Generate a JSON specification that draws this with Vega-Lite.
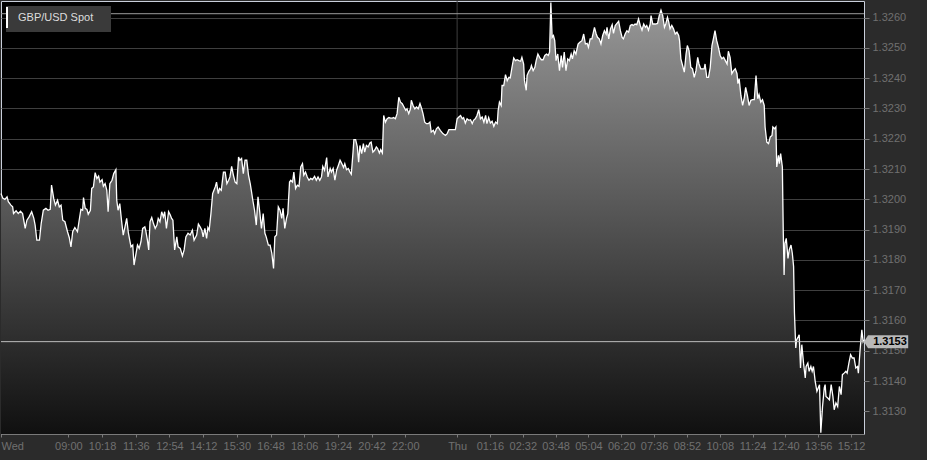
{
  "$schema": "https://vega.github.io/schema/vega-lite/v6.json",
  "width": 863,
  "height": 433,
  "autosize": {"type": "none"},
  "padding": {"left": 1, "top": 1, "right": 63, "bottom": 26},
  "background": "#2b2b2b",
  "config": {
    "font": "Liberation Sans",
    "view": {"fill": "#000000", "stroke": "#c9cfdb", "strokeWidth": 1},
    "axis": {"labelOverlap": false, "tickCount": 100}
  },
  "data": {"values": [
{"t":384,"p":1.32019},{"t":388,"p":1.32004},{"t":393,"p":1.32000},{"t":398,"p":1.32008},{"t":401,"p":1.31992},{"t":407,"p":1.31981},{"t":411,"p":1.31975},{"t":413,"p":1.31953},{"t":419,"p":1.31962},{"t":424,"p":1.31953},{"t":429,"p":1.31961},{"t":434,"p":1.31953},{"t":440,"p":1.31904},{"t":444,"p":1.31931},{"t":449,"p":1.31942},{"t":455,"p":1.31959},{"t":460,"p":1.31937},{"t":463,"p":1.31915},{"t":467,"p":1.31865},{"t":473,"p":1.31865},{"t":477,"p":1.31920},{"t":482,"p":1.31964},{"t":488,"p":1.31970},{"t":493,"p":1.31964},{"t":498,"p":1.31967},{"t":501,"p":1.32047},{"t":506,"p":1.32003},{"t":510,"p":1.31981},{"t":515,"p":1.31997},{"t":519,"p":1.31975},{"t":523,"p":1.31981},{"t":527,"p":1.31931},{"t":532,"p":1.31926},{"t":538,"p":1.31893},{"t":542,"p":1.31874},{"t":546,"p":1.31843},{"t":550,"p":1.31893},{"t":555,"p":1.31907},{"t":561,"p":1.31893},{"t":565,"p":1.31931},{"t":569,"p":1.31967},{"t":573,"p":1.31964},{"t":575,"p":1.32006},{"t":579,"p":1.31970},{"t":583,"p":1.31967},{"t":586,"p":1.31951},{"t":591,"p":1.31964},{"t":594,"p":1.32036},{"t":598,"p":1.32041},{"t":602,"p":1.32088},{"t":606,"p":1.32069},{"t":610,"p":1.32077},{"t":613,"p":1.32057},{"t":618,"p":1.32065},{"t":621,"p":1.32043},{"t":625,"p":1.32052},{"t":629,"p":1.32030},{"t":632,"p":1.31959},{"t":636,"p":1.32052},{"t":641,"p":1.32063},{"t":645,"p":1.32085},{"t":650,"p":1.32098},{"t":652,"p":1.31997},{"t":655,"p":1.31964},{"t":659,"p":1.31986},{"t":663,"p":1.31931},{"t":667,"p":1.31882},{"t":671,"p":1.31909},{"t":675,"p":1.31937},{"t":679,"p":1.31888},{"t":685,"p":1.31843},{"t":689,"p":1.31849},{"t":692,"p":1.31783},{"t":696,"p":1.31816},{"t":700,"p":1.31849},{"t":704,"p":1.31838},{"t":708,"p":1.31860},{"t":712,"p":1.31904},{"t":717,"p":1.31909},{"t":719,"p":1.31898},{"t":723,"p":1.31865},{"t":726,"p":1.31833},{"t":729,"p":1.31926},{"t":733,"p":1.31940},{"t":737,"p":1.31920},{"t":741,"p":1.31904},{"t":745,"p":1.31915},{"t":748,"p":1.31937},{"t":752,"p":1.31926},{"t":756,"p":1.31959},{"t":760,"p":1.31942},{"t":763,"p":1.31959},{"t":767,"p":1.31904},{"t":772,"p":1.31959},{"t":776,"p":1.31948},{"t":779,"p":1.31937},{"t":782,"p":1.31931},{"t":786,"p":1.31833},{"t":791,"p":1.31876},{"t":794,"p":1.31843},{"t":799,"p":1.31838},{"t":804,"p":1.31813},{"t":808,"p":1.31833},{"t":812,"p":1.31876},{"t":817,"p":1.31888},{"t":822,"p":1.31882},{"t":827,"p":1.31898},{"t":831,"p":1.31865},{"t":837,"p":1.31882},{"t":841,"p":1.31918},{"t":845,"p":1.31909},{"t":849,"p":1.31898},{"t":852,"p":1.31876},{"t":856,"p":1.31904},{"t":860,"p":1.31871},{"t":863,"p":1.31907},{"t":866,"p":1.31898},{"t":870,"p":1.31953},{"t":874,"p":1.32019},{"t":877,"p":1.32030},{"t":880,"p":1.32041},{"t":883,"p":1.32057},{"t":887,"p":1.32019},{"t":890,"p":1.32036},{"t":894,"p":1.32030},{"t":899,"p":1.32090},{"t":903,"p":1.32090},{"t":907,"p":1.32052},{"t":911,"p":1.32063},{"t":914,"p":1.32074},{"t":918,"p":1.32109},{"t":922,"p":1.32080},{"t":926,"p":1.32057},{"t":930,"p":1.32052},{"t":934,"p":1.32140},{"t":937,"p":1.32129},{"t":941,"p":1.32135},{"t":945,"p":1.32085},{"t":949,"p":1.32129},{"t":953,"p":1.32129},{"t":957,"p":1.32080},{"t":961,"p":1.32052},{"t":964,"p":1.32025},{"t":967,"p":1.31997},{"t":971,"p":1.31964},{"t":975,"p":1.31915},{"t":979,"p":1.32008},{"t":983,"p":1.31959},{"t":987,"p":1.31904},{"t":991,"p":1.31953},{"t":995,"p":1.31888},{"t":998,"p":1.31876},{"t":1003,"p":1.31849},{"t":1007,"p":1.31849},{"t":1011,"p":1.31822},{"t":1015,"p":1.31772},{"t":1018,"p":1.31876},{"t":1022,"p":1.31882},{"t":1026,"p":1.31975},{"t":1030,"p":1.31964},{"t":1034,"p":1.31937},{"t":1037,"p":1.31970},{"t":1041,"p":1.31904},{"t":1045,"p":1.31937},{"t":1048,"p":1.31953},{"t":1052,"p":1.32057},{"t":1055,"p":1.32063},{"t":1059,"p":1.32057},{"t":1062,"p":1.32090},{"t":1066,"p":1.32036},{"t":1070,"p":1.32047},{"t":1074,"p":1.32043},{"t":1078,"p":1.32107},{"t":1082,"p":1.32118},{"t":1085,"p":1.32080},{"t":1089,"p":1.32090},{"t":1093,"p":1.32074},{"t":1097,"p":1.32063},{"t":1101,"p":1.32069},{"t":1105,"p":1.32065},{"t":1110,"p":1.32076},{"t":1114,"p":1.32063},{"t":1118,"p":1.32074},{"t":1122,"p":1.32063},{"t":1126,"p":1.32074},{"t":1129,"p":1.32109},{"t":1133,"p":1.32096},{"t":1138,"p":1.32138},{"t":1141,"p":1.32074},{"t":1146,"p":1.32102},{"t":1149,"p":1.32090},{"t":1153,"p":1.32102},{"t":1157,"p":1.32063},{"t":1161,"p":1.32096},{"t":1165,"p":1.32112},{"t":1169,"p":1.32129},{"t":1173,"p":1.32118},{"t":1177,"p":1.32105},{"t":1180,"p":1.32118},{"t":1184,"p":1.32098},{"t":1188,"p":1.32102},{"t":1192,"p":1.32090},{"t":1195,"p":1.32083},{"t":1199,"p":1.32156},{"t":1201,"p":1.32197},{"t":1205,"p":1.32197},{"t":1209,"p":1.32173},{"t":1212,"p":1.32123},{"t":1215,"p":1.32178},{"t":1219,"p":1.32151},{"t":1223,"p":1.32184},{"t":1226,"p":1.32156},{"t":1230,"p":1.32178},{"t":1234,"p":1.32173},{"t":1238,"p":1.32186},{"t":1241,"p":1.32189},{"t":1245,"p":1.32156},{"t":1249,"p":1.32162},{"t":1253,"p":1.32173},{"t":1256,"p":1.32168},{"t":1260,"p":1.32153},{"t":1263,"p":1.32164},{"t":1267,"p":1.32153},{"t":1270,"p":1.32277},{"t":1274,"p":1.32255},{"t":1278,"p":1.32266},{"t":1282,"p":1.32270},{"t":1286,"p":1.32268},{"t":1290,"p":1.32268},{"t":1293,"p":1.32270},{"t":1297,"p":1.32266},{"t":1301,"p":1.32283},{"t":1305,"p":1.32337},{"t":1309,"p":1.32321},{"t":1313,"p":1.32316},{"t":1317,"p":1.32305},{"t":1321,"p":1.32294},{"t":1324,"p":1.32299},{"t":1328,"p":1.32283},{"t":1332,"p":1.32299},{"t":1334,"p":1.32327},{"t":1338,"p":1.32310},{"t":1342,"p":1.32299},{"t":1346,"p":1.32305},{"t":1350,"p":1.32299},{"t":1354,"p":1.32316},{"t":1358,"p":1.32299},{"t":1361,"p":1.32283},{"t":1365,"p":1.32255},{"t":1369,"p":1.32250},{"t":1373,"p":1.32250},{"t":1377,"p":1.32255},{"t":1380,"p":1.32222},{"t":1385,"p":1.32228},{"t":1388,"p":1.32217},{"t":1392,"p":1.32233},{"t":1396,"p":1.32239},{"t":1401,"p":1.32228},{"t":1407,"p":1.32217},{"t":1413,"p":1.32211},{"t":1417,"p":1.32217},{"t":1421,"p":1.32230},{"t":1429,"p":1.32230},{"t":1436,"p":1.32230},{"t":1440,"p":1.32266},{"t":1444,"p":1.32272},{"t":1448,"p":1.32277},{"t":1452,"p":1.32266},{"t":1455,"p":1.32270},{"t":1459,"p":1.32252},{"t":1463,"p":1.32266},{"t":1467,"p":1.32261},{"t":1471,"p":1.32263},{"t":1475,"p":1.32250},{"t":1478,"p":1.32261},{"t":1482,"p":1.32266},{"t":1486,"p":1.32277},{"t":1490,"p":1.32296},{"t":1494,"p":1.32266},{"t":1498,"p":1.32272},{"t":1502,"p":1.32255},{"t":1506,"p":1.32277},{"t":1509,"p":1.32250},{"t":1513,"p":1.32270},{"t":1517,"p":1.32252},{"t":1521,"p":1.32258},{"t":1525,"p":1.32241},{"t":1529,"p":1.32255},{"t":1533,"p":1.32250},{"t":1535,"p":1.32294},{"t":1538,"p":1.32321},{"t":1542,"p":1.32310},{"t":1544,"p":1.32376},{"t":1548,"p":1.32376},{"t":1552,"p":1.32412},{"t":1556,"p":1.32392},{"t":1560,"p":1.32403},{"t":1563,"p":1.32401},{"t":1567,"p":1.32436},{"t":1571,"p":1.32467},{"t":1575,"p":1.32458},{"t":1579,"p":1.32461},{"t":1583,"p":1.32458},{"t":1587,"p":1.32456},{"t":1590,"p":1.32469},{"t":1594,"p":1.32447},{"t":1596,"p":1.32392},{"t":1600,"p":1.32360},{"t":1602,"p":1.32409},{"t":1606,"p":1.32423},{"t":1610,"p":1.32431},{"t":1612,"p":1.32442},{"t":1616,"p":1.32425},{"t":1620,"p":1.32436},{"t":1623,"p":1.32458},{"t":1627,"p":1.32480},{"t":1631,"p":1.32469},{"t":1635,"p":1.32461},{"t":1639,"p":1.32461},{"t":1643,"p":1.32475},{"t":1647,"p":1.32480},{"t":1651,"p":1.32475},{"t":1654,"p":1.32486},{"t":1657,"p":1.32650},{"t":1660,"p":1.32535},{"t":1663,"p":1.32541},{"t":1666,"p":1.32524},{"t":1669,"p":1.32458},{"t":1673,"p":1.32480},{"t":1677,"p":1.32425},{"t":1681,"p":1.32475},{"t":1684,"p":1.32436},{"t":1688,"p":1.32486},{"t":1692,"p":1.32425},{"t":1696,"p":1.32464},{"t":1700,"p":1.32458},{"t":1704,"p":1.32480},{"t":1707,"p":1.32464},{"t":1711,"p":1.32491},{"t":1715,"p":1.32480},{"t":1720,"p":1.32513},{"t":1724,"p":1.32519},{"t":1729,"p":1.32524},{"t":1733,"p":1.32546},{"t":1737,"p":1.32513},{"t":1741,"p":1.32515},{"t":1744,"p":1.32502},{"t":1748,"p":1.32530},{"t":1752,"p":1.32530},{"t":1758,"p":1.32568},{"t":1762,"p":1.32546},{"t":1765,"p":1.32535},{"t":1769,"p":1.32530},{"t":1773,"p":1.32513},{"t":1777,"p":1.32541},{"t":1781,"p":1.32557},{"t":1785,"p":1.32546},{"t":1787,"p":1.32568},{"t":1791,"p":1.32530},{"t":1795,"p":1.32563},{"t":1799,"p":1.32577},{"t":1802,"p":1.32548},{"t":1806,"p":1.32574},{"t":1810,"p":1.32581},{"t":1814,"p":1.32588},{"t":1818,"p":1.32557},{"t":1822,"p":1.32535},{"t":1825,"p":1.32530},{"t":1829,"p":1.32546},{"t":1833,"p":1.32557},{"t":1837,"p":1.32552},{"t":1841,"p":1.32574},{"t":1845,"p":1.32577},{"t":1848,"p":1.32574},{"t":1852,"p":1.32579},{"t":1856,"p":1.32577},{"t":1860,"p":1.32596},{"t":1864,"p":1.32574},{"t":1868,"p":1.32559},{"t":1872,"p":1.32579},{"t":1876,"p":1.32568},{"t":1879,"p":1.32574},{"t":1883,"p":1.32559},{"t":1887,"p":1.32579},{"t":1889,"p":1.32607},{"t":1893,"p":1.32579},{"t":1899,"p":1.32579},{"t":1904,"p":1.32581},{"t":1908,"p":1.32607},{"t":1912,"p":1.32625},{"t":1916,"p":1.32607},{"t":1920,"p":1.32568},{"t":1923,"p":1.32579},{"t":1927,"p":1.32601},{"t":1930,"p":1.32585},{"t":1933,"p":1.32563},{"t":1937,"p":1.32574},{"t":1941,"p":1.32563},{"t":1945,"p":1.32546},{"t":1949,"p":1.32552},{"t":1953,"p":1.32541},{"t":1955,"p":1.32524},{"t":1958,"p":1.32464},{"t":1962,"p":1.32442},{"t":1966,"p":1.32420},{"t":1970,"p":1.32480},{"t":1973,"p":1.32508},{"t":1977,"p":1.32491},{"t":1981,"p":1.32436},{"t":1985,"p":1.32431},{"t":1989,"p":1.32403},{"t":1993,"p":1.32425},{"t":1997,"p":1.32469},{"t":2000,"p":1.32447},{"t":2004,"p":1.32431},{"t":2008,"p":1.32431},{"t":2012,"p":1.32431},{"t":2014,"p":1.32447},{"t":2018,"p":1.32403},{"t":2022,"p":1.32403},{"t":2026,"p":1.32436},{"t":2030,"p":1.32508},{"t":2034,"p":1.32535},{"t":2037,"p":1.32557},{"t":2041,"p":1.32524},{"t":2045,"p":1.32502},{"t":2049,"p":1.32475},{"t":2053,"p":1.32464},{"t":2057,"p":1.32469},{"t":2061,"p":1.32458},{"t":2065,"p":1.32447},{"t":2068,"p":1.32489},{"t":2072,"p":1.32469},{"t":2076,"p":1.32415},{"t":2080,"p":1.32425},{"t":2084,"p":1.32431},{"t":2088,"p":1.32415},{"t":2090,"p":1.32382},{"t":2093,"p":1.32398},{"t":2097,"p":1.32343},{"t":2101,"p":1.32310},{"t":2105,"p":1.32337},{"t":2108,"p":1.32370},{"t":2112,"p":1.32343},{"t":2116,"p":1.32310},{"t":2120,"p":1.32327},{"t":2124,"p":1.32329},{"t":2128,"p":1.32329},{"t":2132,"p":1.32409},{"t":2136,"p":1.32332},{"t":2139,"p":1.32346},{"t":2143,"p":1.32321},{"t":2147,"p":1.32329},{"t":2151,"p":1.32310},{"t":2153,"p":1.32239},{"t":2157,"p":1.32189},{"t":2161,"p":1.32184},{"t":2165,"p":1.32206},{"t":2169,"p":1.32211},{"t":2171,"p":1.32239},{"t":2175,"p":1.32233},{"t":2178,"p":1.32239},{"t":2180,"p":1.32107},{"t":2184,"p":1.32145},{"t":2186,"p":1.32118},{"t":2189,"p":1.32151},{"t":2193,"p":1.32107},{"t":2195,"p":1.31898},{"t":2197,"p":1.31750},{"t":2199,"p":1.31855},{"t":2202,"p":1.31871},{"t":2206,"p":1.31805},{"t":2209,"p":1.31833},{"t":2213,"p":1.31849},{"t":2216,"p":1.31822},{"t":2219,"p":1.31778},{"t":2221,"p":1.31624},{"t":2224,"p":1.31509},{"t":2226,"p":1.31536},{"t":2230,"p":1.31547},{"t":2232,"p":1.31553},{"t":2235,"p":1.31443},{"t":2238,"p":1.31520},{"t":2242,"p":1.31459},{"t":2246,"p":1.31410},{"t":2248,"p":1.31448},{"t":2252,"p":1.31459},{"t":2255,"p":1.31432},{"t":2259,"p":1.31448},{"t":2262,"p":1.31432},{"t":2265,"p":1.31448},{"t":2269,"p":1.31399},{"t":2273,"p":1.31366},{"t":2276,"p":1.31377},{"t":2279,"p":1.31388},{"t":2282,"p":1.31229},{"t":2286,"p":1.31316},{"t":2290,"p":1.31377},{"t":2292,"p":1.31388},{"t":2294,"p":1.31349},{"t":2298,"p":1.31344},{"t":2302,"p":1.31338},{"t":2306,"p":1.31388},{"t":2310,"p":1.31349},{"t":2313,"p":1.31305},{"t":2317,"p":1.31328},{"t":2321,"p":1.31316},{"t":2325,"p":1.31382},{"t":2329,"p":1.31355},{"t":2332,"p":1.31421},{"t":2336,"p":1.31426},{"t":2340,"p":1.31432},{"t":2343,"p":1.31426},{"t":2347,"p":1.31459},{"t":2351,"p":1.31487},{"t":2355,"p":1.31476},{"t":2359,"p":1.31476},{"t":2363,"p":1.31443},{"t":2367,"p":1.31448},{"t":2369,"p":1.31426},{"t":2373,"p":1.31503},{"t":2377,"p":1.31569},{"t":2380,"p":1.31530},{"t":2382,"p":1.31536}
  ]},
  "layer": [
    {
      "data": {"values": [{}]},
      "mark": {"type": "rule", "color": "#3f3f3f", "strokeWidth": 1},
      "encoding": {"x": {"datum": 1440, "type": "quantitative"}}
    },
    {
      "mark": {
        "type": "area",
        "color": {
          "gradient": "linear", "x1": 0, "y1": 0, "x2": 0, "y2": 1,
          "stops": [{"offset": 0, "color": "#989898"}, {"offset": 1, "color": "#101010"}]
        }
      },
      "encoding": {
        "x": {
          "field": "t", "type": "quantitative",
          "scale": {"domain": [384, 2382], "nice": false, "zero": false},
          "axis": {
            "orient": "bottom", "title": null, "grid": false, "tickCount": 100,
            "values": [384, 540, 618, 696, 774, 852, 930, 1008, 1086, 1164, 1242, 1320, 1440, 1516, 1592, 1668, 1744, 1820, 1896, 1972, 2048, 2124, 2200, 2276, 2352],
            "labelExpr": "datum.value == 384 ? 'Wed' : datum.value == 1440 ? 'Thu' : (floor((datum.value % 1440) / 60) < 10 ? '0' : '') + floor((datum.value % 1440) / 60) + ':' + (datum.value % 60 < 10 ? '0' : '') + (datum.value % 60)",
            "labelFlush": true, "labelOverlap": false,
            "domainColor": "#7a7a7a", "tickColor": "#7a7a7a", "tickSize": 3,
            "labelColor": "#707070", "labelFontSize": 11, "labelFont": "Liberation Sans", "labelPadding": 3
          }
        },
        "y": {
          "field": "p", "type": "quantitative",
          "scale": {"domain": [1.31225, 1.32655], "nice": false, "zero": false},
          "axis": {
            "orient": "right", "title": null, "grid": true, "gridColor": "#3f3f3f", "tickCount": 100,
            "values": [1.313, 1.314, 1.315, 1.316, 1.317, 1.318, 1.319, 1.320, 1.321, 1.322, 1.323, 1.324, 1.325, 1.326],
            "format": ".4f", "domain": false, "labelOverlap": false, "zindex": 0,
            "tickColor": "#7a7a7a", "tickSize": 5,
            "labelColor": "#707070", "labelFontSize": 11, "labelFont": "Liberation Sans", "labelPadding": 3
          }
        },
        "y2": {"datum": 1.31225}
      }
    },
    {
      "mark": {"type": "line", "strokeWidth": 1.3},
      "encoding": {
        "x": {"field": "t", "type": "quantitative"},
        "y": {"field": "p", "type": "quantitative"},
        "stroke": {
          "datum": "GBP/USD Spot", "type": "nominal",
          "scale": {"range": ["#ffffff"]},
          "legend": {
            "title": null, "orient": "top-left", "offset": 5, "padding": 0,
            "fillColor": "#3a3a3a",
            "symbolType": "M-1,-1L-1,1M8.5,0", "symbolSize": 441, "symbolStrokeWidth": 2,
            "labelOffset": -11, "labelColor": "#dddddd", "labelFontSize": 11, "labelFont": "Liberation Sans",
            "encode": {"symbols": {"update": {"stroke": {"value": "#9a9a9a"}}}}
          }
        }
      }
    },
    {
      "data": {"values": [{}]},
      "mark": {"type": "rule", "color": "#9c9c9c", "strokeWidth": 1},
      "encoding": {"y": {"datum": 1.32613, "type": "quantitative"}}
    },
    {
      "data": {"values": [{}]},
      "mark": {"type": "rule", "color": "#bdbdbd", "strokeWidth": 1},
      "encoding": {"y": {"datum": 1.3153, "type": "quantitative"}}
    },
    {
      "data": {"values": [{}]},
      "mark": {"type": "point", "shape": "M0,0L0.62,-1L6.8,-1L6.8,1L0.62,1Z", "size": 169, "filled": true, "fill": "#b9b9b9", "opacity": 1, "strokeWidth": 0},
      "encoding": {
        "x": {"datum": 2382, "type": "quantitative"},
        "y": {"datum": 1.3153, "type": "quantitative"}
      }
    },
    {
      "data": {"values": [{}]},
      "mark": {"type": "text", "text": "1.3153", "dx": 26, "align": "center", "baseline": "middle", "fontWeight": "bold", "fontSize": 11, "font": "Liberation Sans", "color": "#000000"},
      "encoding": {
        "x": {"datum": 2382, "type": "quantitative"},
        "y": {"datum": 1.3153, "type": "quantitative"}
      }
    }
  ]
}
